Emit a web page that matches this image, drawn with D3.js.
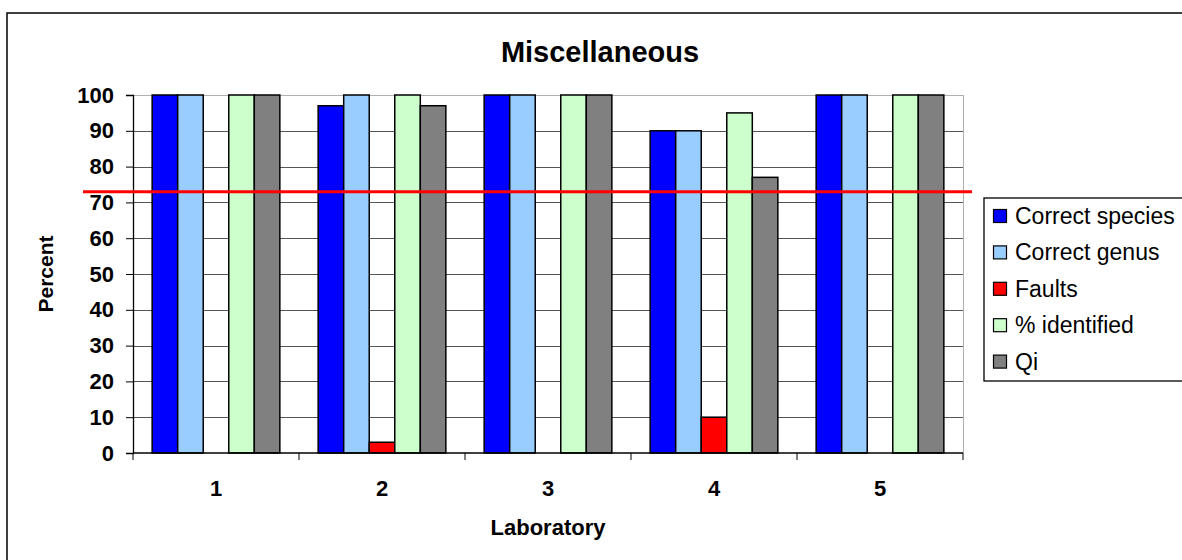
<!DOCTYPE html>
<html>
<head>
<meta charset="utf-8">
<script src="https://cdn.jsdelivr.net/npm/d3@7"></script>
<style>
  body { margin: 0; background: #fff; }
  svg { display: block; font-family: Arial, "Liberation Sans", sans-serif; }
</style>
</head>
<body>
<div class="chart"></div>
<script>
const labs = ["1", "2", "3", "4", "5"];
const seriesNames = ["Correct species", "Correct genus", "Faults", "% identified", "Qi"];
const correctSpecies = [100, 97, 100, 90, 100];
const correctGenus = [100, 100, 100, 90, 100];
const faults = [0, 3, 0, 10, 0];
const identified = [100, 100, 100, 95, 100];
const qi = [100, 97, 100, 77, 100];
const yTicks = [0, 10, 20, 30, 40, 50, 60, 70, 80, 90, 100];
const referenceLine = 73;

const colors = ["#0000ff", "#99ccff", "#ff0000", "#ccffcc", "#808080"];
const allSeries = [correctSpecies, correctGenus, faults, identified, qi];

const w = 1182, h = 560;
const margin = { top: 95, bottom: 107, left: 133, right: 219 };

const svg = d3.select(".chart").append("svg").attr("width", w).attr("height", h);

// chart border
svg.append("rect")
  .attr("x", 7).attr("y", 13)
  .attr("width", w + 20).attr("height", h + 20)
  .attr("fill", "none").attr("stroke", "#000").attr("stroke-width", 1.5);

const xScale = d3.scaleBand().domain(labs).range([margin.left, w - margin.right]);
const xInner = d3.scaleBand().domain(seriesNames).range([0, xScale.bandwidth()])
  .paddingInner(0).paddingOuter(0.75);
const yScale = d3.scaleLinear().domain([0, 100]).range([h - margin.bottom, margin.top]);

// gridlines
svg.append("g")
  .selectAll("line")
  .data(yTicks.filter(d => d > 0))
  .enter().append("line")
  .attr("x1", margin.left).attr("x2", w - margin.right)
  .attr("y1", d => Math.round(yScale(d)) + 0.5).attr("y2", d => Math.round(yScale(d)) + 0.5)
  .attr("stroke", d => d === 100 ? "#b0b0b0" : "#555").attr("stroke-width", 1);

// right plot border
svg.append("line")
  .attr("x1", w - margin.right + 0.5).attr("x2", w - margin.right + 0.5)
  .attr("y1", margin.top).attr("y2", h - margin.bottom)
  .attr("stroke", "#b0b0b0");

// bars
const rows = [];
labs.forEach((lab, i) => {
  seriesNames.forEach((s, j) => {
    rows.push({ lab, s, v: allSeries[j][i], c: colors[j] });
  });
});

svg.append("g")
  .selectAll("rect")
  .data(rows.filter(d => d.v > 0))
  .enter().append("rect")
  .attr("x", d => xScale(d.lab) + xInner(d.s))
  .attr("y", d => yScale(d.v))
  .attr("width", xInner.bandwidth())
  .attr("height", d => yScale(0) - yScale(d.v))
  .attr("fill", d => d.c)
  .attr("stroke", "#000")
  .attr("stroke-width", 1.5);

// y axis
const yAxis = d3.axisLeft(yScale).tickValues(yTicks).tickSize(7).tickPadding(12);
const gy = svg.append("g")
  .attr("transform", `translate(${margin.left}, 0)`)
  .call(yAxis);
gy.select(".domain").attr("stroke", "#000").attr("stroke-width", 1.3);
gy.selectAll(".tick line").attr("stroke", "#000");
gy.selectAll("text").attr("font-size", 22).attr("font-weight", "bold")
  .attr("fill", "#000").attr("font-family", "Arial, 'Liberation Sans', sans-serif");

// x axis
const gx = svg.append("g").attr("transform", `translate(0, ${yScale(0)})`);
gx.append("line")
  .attr("x1", margin.left).attr("x2", w - margin.right)
  .attr("stroke", "#000").attr("stroke-width", 1.3);
gx.selectAll(".xtick")
  .data(labs.map(l => xScale(l)).concat([w - margin.right]))
  .enter().append("line")
  .attr("x1", d => d).attr("x2", d => d)
  .attr("y1", 0).attr("y2", 7)
  .attr("stroke", "#000");
gx.selectAll("text")
  .data(labs)
  .enter().append("text")
  .attr("x", d => xScale(d) + xScale.bandwidth() / 2)
  .attr("y", 43)
  .attr("text-anchor", "middle")
  .attr("font-size", 22).attr("font-weight", "bold")
  .text(d => d);

// reference line
svg.append("line")
  .attr("x1", margin.left - 50).attr("x2", w - margin.right + 9)
  .attr("y1", yScale(referenceLine)).attr("y2", yScale(referenceLine))
  .attr("stroke", "#ff0000").attr("stroke-width", 3);

// titles
svg.append("text")
  .attr("x", 600).attr("y", 62)
  .attr("text-anchor", "middle")
  .attr("font-size", 29).attr("font-weight", "bold")
  .text("Miscellaneous");

svg.append("text")
  .attr("x", 548).attr("y", 535)
  .attr("text-anchor", "middle")
  .attr("font-size", 22).attr("font-weight", "bold")
  .text("Laboratory");

svg.append("text")
  .attr("transform", `translate(53, ${(margin.top + yScale(0)) / 2}) rotate(-90)`)
  .attr("text-anchor", "middle")
  .attr("font-size", 21).attr("font-weight", "bold")
  .text("Percent");

// legend
const legend = svg.append("g").attr("transform", "translate(984, 198)");
legend.append("rect")
  .attr("width", 240).attr("height", 183)
  .attr("fill", "#fff").attr("stroke", "#000").attr("stroke-width", 1.3);
const item = legend.selectAll(".item")
  .data(seriesNames)
  .enter().append("g")
  .attr("transform", (d, i) => `translate(0, ${18 + i * 36.4})`);
item.append("rect")
  .attr("x", 9.5).attr("y", -6.5)
  .attr("width", 13).attr("height", 13)
  .attr("fill", (d, i) => colors[i])
  .attr("stroke", "#000").attr("stroke-width", 1.2);
item.append("text")
  .attr("x", 31).attr("y", 8)
  .attr("font-size", 23)
  .text(d => d);
</script>
</body>
</html>
